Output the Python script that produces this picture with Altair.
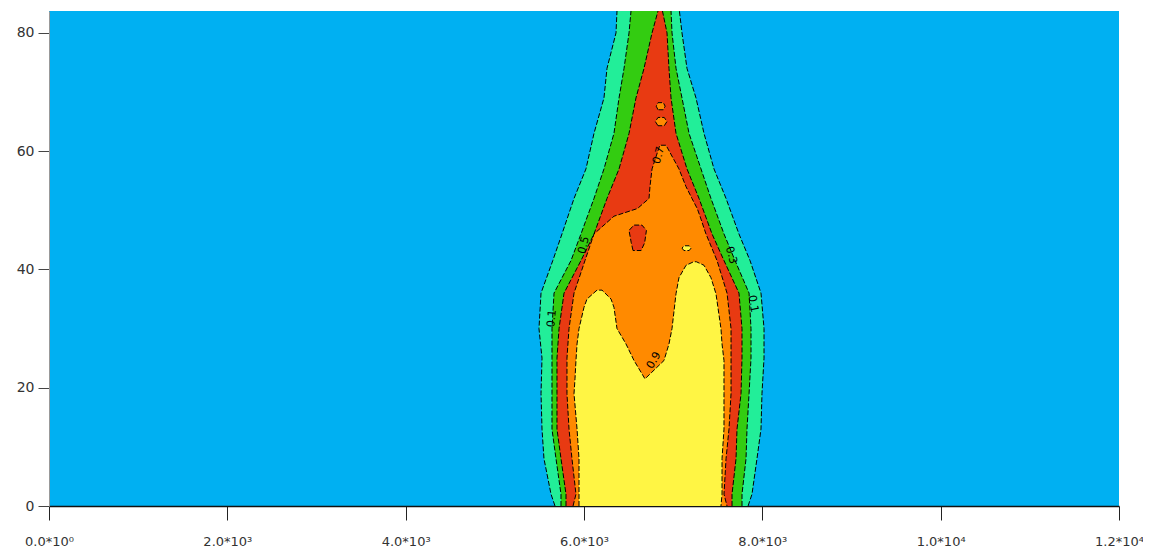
import altair as alt
import pandas as pd

# ---------------- data ----------------
# contour level 0.1 region (mint)
lv01_y = [0, 2, 8, 13, 19, 25, 30, 36, 41.5, 46, 52, 57, 63, 69, 74, 80, 83.7]
lv01_left = [5675, 5630, 5551, 5529, 5518, 5529, 5495, 5518, 5650, 5753, 5888, 6022, 6112, 6224, 6258, 6359, 6370]
lv01_right = [7840, 7884, 7940, 7985, 7996, 8019, 8019, 7985, 7862, 7738, 7593, 7458, 7346, 7256, 7155, 7099, 7070]

# contour level 0.3 region (green)
lv03_y = [0, 2, 8, 13, 19, 25, 30, 36, 41.5, 46, 52, 57, 63, 69, 74, 80, 83.7]
lv03_left = [5742, 5742, 5686, 5641, 5641, 5641, 5641, 5664, 5854, 5966, 6112, 6224, 6336, 6393, 6449, 6505, 6527]
lv03_right = [7772, 7772, 7817, 7828, 7851, 7873, 7873, 7851, 7694, 7570, 7424, 7312, 7178, 7099, 7032, 6987, 6976]

# contour level 0.5 region (red)
lv05_y = [0, 2, 8, 13, 19, 25, 30, 36, 41.5, 46, 52, 57, 63, 69, 74, 80, 83.7]
lv05_left = [5798, 5798, 5742, 5697, 5697, 5697, 5720, 5776, 5966, 6112, 6258, 6393, 6505, 6583, 6673, 6763, 6830]
lv05_right = [7660, 7660, 7705, 7716, 7761, 7772, 7772, 7738, 7570, 7436, 7290, 7155, 7032, 6976, 6953, 6931, 6880]

# contour level 0.7 region (orange)
lv07_y = [0, 2, 8, 13, 19, 25, 30, 36, 41.5, 46, 49, 50.3, 52, 54, 57, 61]
lv07_left = [5877, 5910, 5865, 5832, 5809, 5809, 5832, 5888, 6011, 6112, 6336, 6600, 6729, 6740, 6763, 6850]
lv07_right = [7604, 7570, 7593, 7626, 7649, 7649, 7649, 7604, 7492, 7368, 7301, 7270, 7211, 7144, 7065, 6920]

# small islands
red_notch_y = [43.2, 44.5, 46.6, 47.5]
red_notch_left = [6550, 6530, 6505, 6560]
red_notch_right = [6640, 6680, 6700, 6650]
orange_isl1_y = [64.3, 65.0, 65.7]
orange_isl1_left = [6830, 6800, 6830]
orange_isl1_right = [6900, 6930, 6900]
orange_isl2_y = [67.0, 67.6, 68.2]
orange_isl2_left = [6830, 6810, 6830]
orange_isl2_right = [6890, 6910, 6890]
yellow_isl_y = [43.2, 43.6, 44.0]
yellow_isl_left = [7120, 7100, 7120]
yellow_isl_right = [7180, 7200, 7180]

# contour level 0.9 region (yellow): base and two lobes
lv09b_y = [0, 2, 8, 13, 19, 21.5]
lv09b_left = [5944, 5944, 5944, 5922, 5888, 5899]
lv09b_right = [7536, 7548, 7548, 7570, 7570, 7570]
lv09l_y = [21.0, 21.5, 24.6, 27.4, 30, 33.6, 35, 36.5]
lv09l_left = [5895, 5899, 5910, 5922, 5944, 6000, 6034, 6146]
lv09l_right = [6684, 6684, 6561, 6471, 6370, 6336, 6303, 6202]
lv09r_y = [21.0, 21.5, 24.6, 27.4, 30, 35.9, 38.6, 40.7, 41.3]
lv09r_left = [6684, 6684, 6897, 6953, 6987, 7032, 7065, 7144, 7230]
lv09r_right = [7570, 7570, 7570, 7548, 7536, 7480, 7424, 7346, 7260]

# contour labels
lab_text = ["0.1", "0.5", "0.7", "0.9", "0.3", "0.1"]
lab_x = [5641, 6000, 6841, 6785, 7649, 7895]
lab_y = [31.7, 44.1, 59.3, 24.6, 42.4, 34.2]
lab_angle = [275, 285, 285, 300, 75, 80]

# axes
x_tick_values = [0, 2000, 4000, 6000, 8000, 10000, 12000]
x_tick_labels = ["0.0*10⁰", "2.0*10³", "4.0*10³", "6.0*10³", "8.0*10³", "1.0*10⁴", "1.2*10⁴"]
y_tick_values = [0, 20, 40, 60, 80]
x_domain = [0, 12000]
y_domain = [0, 83.7]

# ---------------- chart ----------------
FONT = "DejaVu Sans"
label_expr = " : ".join(f"datum.value == {v} ? '{l}'" for v, l in zip(x_tick_values, x_tick_labels)) + " : ''"

xscale = alt.Scale(domain=x_domain, nice=False, zero=False)
yscale = alt.Scale(domain=y_domain, nice=False, zero=False)
xaxis = alt.Axis(values=x_tick_values, labelExpr=label_expr, title=None, grid=False,
                 tickSize=14, tickColor="#222", domainColor="#111", domainWidth=1.5,
                 labelFont=FONT, labelFontSize=13, labelColor="#333", labelPadding=15,
                 labelFlush=False, labelOverlap=False)
yaxis = alt.Axis(values=y_tick_values, title=None, grid=False, tickSize=11, tickColor="#444",
                 domainColor="#999", domainWidth=1, labelFont=FONT, labelFontSize=14,
                 labelColor="#333", labelPadding=4)

COL_MINT = "#22EE99"
COL_GREEN = "#33CC11"
COL_RED = "#E83A12"
COL_ORANGE = "#FF8A00"
COL_YELLOW = "#FFF544"


def band(ys, ls, rs, color):
    df = pd.DataFrame({"y": ys, "xl": ls, "xr": rs})
    return alt.Chart(df).mark_area(orient="horizontal", color=color, clip=True).encode(
        y=alt.Y("y:Q", scale=yscale, axis=yaxis),
        x=alt.X("xl:Q", scale=xscale, axis=xaxis),
        x2="xr:Q",
    )


# outline paths for contour lines
rows = []


def add_path(seg, pts):
    for i, (x, y) in enumerate(pts):
        rows.append({"seg": seg, "i": i, "x": x, "y": y})


def side(ys, xs):
    return list(zip(xs, ys))


add_path("01L", side(lv01_y, lv01_left))
add_path("01R", side(lv01_y, lv01_right))
add_path("03L", side(lv03_y, lv03_left))
add_path("03R", side(lv03_y, lv03_right))
add_path("05L", side(lv05_y, lv05_left))
add_path("05R", side(lv05_y, lv05_right))
add_path("07", side(lv07_y, lv07_left) + side(lv07_y, lv07_right)[::-1])
for nm, (yy, ll, rr) in {
    "rn": (red_notch_y, red_notch_left, red_notch_right),
    "oi1": (orange_isl1_y, orange_isl1_left, orange_isl1_right),
    "oi2": (orange_isl2_y, orange_isl2_left, orange_isl2_right),
    "yi": (yellow_isl_y, yellow_isl_left, yellow_isl_right),
}.items():
    p = side(yy, ll) + side(yy, rr)[::-1]
    add_path(nm, p + [p[0]])
yellow_path = (side(lv09b_y, lv09b_left)
               + side(lv09l_y, lv09l_left)[2:]
               + side(lv09l_y, lv09l_right)[::-1][:-2]
               + side(lv09r_y, lv09r_left)[1:]
               + side(lv09r_y, lv09r_right)[::-1][:-2]
               + side(lv09b_y, lv09b_right)[::-1])
add_path("09", yellow_path)
lines_df = pd.DataFrame(rows)

lines = alt.Chart(lines_df).mark_line(color="#000", strokeWidth=1, strokeDash=[5, 2], clip=True).encode(
    x=alt.X("x:Q", scale=xscale, axis=xaxis),
    y=alt.Y("y:Q", scale=yscale, axis=yaxis),
    order="i:Q",
    detail="seg:N",
)

labels_df = pd.DataFrame({"t": lab_text, "x": lab_x, "y": lab_y, "a": lab_angle})
labels = alt.Chart(labels_df).mark_text(font=FONT, fontSize=11, color="#000").encode(
    x=alt.X("x:Q", scale=xscale, axis=xaxis),
    y=alt.Y("y:Q", scale=yscale, axis=yaxis),
    text="t:N",
    angle=alt.Angle("a:Q", scale=None),
)

chart = alt.layer(
    band(lv01_y, lv01_left, lv01_right, COL_MINT),
    band(lv03_y, lv03_left, lv03_right, COL_GREEN),
    band(lv05_y, lv05_left, lv05_right, COL_RED),
    band(orange_isl1_y, orange_isl1_left, orange_isl1_right, COL_ORANGE),
    band(orange_isl2_y, orange_isl2_left, orange_isl2_right, COL_ORANGE),
    band(lv07_y, lv07_left, lv07_right, COL_ORANGE),
    band(red_notch_y, red_notch_left, red_notch_right, COL_RED),
    band(lv09b_y, lv09b_left, lv09b_right, COL_YELLOW),
    band(lv09l_y, lv09l_left, lv09l_right, COL_YELLOW),
    band(lv09r_y, lv09r_left, lv09r_right, COL_YELLOW),
    band(yellow_isl_y, yellow_isl_left, yellow_isl_right, COL_YELLOW),
    lines,
    labels,
).properties(
    width=1070,
    height=495,
    autosize=alt.AutoSizeParams(type="none"),
    padding={"left": 41, "top": 3, "right": 24, "bottom": 44},
    background="white",
).configure_view(fill="#00B0F2", stroke=None)

chart.save("out.html", embed_options={"renderer": "svg", "actions": False})
